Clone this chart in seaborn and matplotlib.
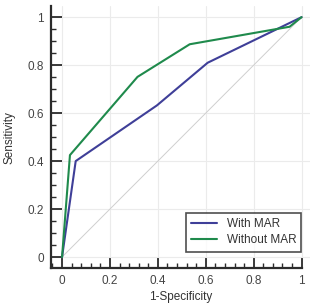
import pandas as pd
import seaborn as sns
import matplotlib.pyplot as plt
from matplotlib.ticker import MultipleLocator

# ROC points
fpr_with = [0.0, 0.057, 0.396, 0.608, 1.0]
tpr_with = [0.0, 0.400, 0.632, 0.810, 1.0]
fpr_without = [0.0, 0.033, 0.315, 0.533, 0.950, 1.0]
tpr_without = [0.0, 0.425, 0.751, 0.887, 0.960, 1.0]
labels = ["With MAR", "Without MAR"]
colors = ["#3f3f98", "#1f8a4c"]

df = pd.concat([
    pd.DataFrame({"fpr": fpr_with, "tpr": tpr_with, "curve": labels[0]}),
    pd.DataFrame({"fpr": fpr_without, "tpr": tpr_without, "curve": labels[1]}),
])

sns.set_style("white")
plt.rcParams['font.family'] = ['Liberation Sans', 'DejaVu Sans']

fig = plt.figure(figsize=(3.15, 3.06), dpi=100)
ax = fig.add_axes([0.162, 0.124, 0.822, 0.856])

# chance line
ax.plot([0, 1], [0, 1], color="#cfcfcf", lw=0.7, zorder=1)
sns.lineplot(data=df, x="fpr", y="tpr", hue="curve", palette=colors,
             sort=False, estimator=None, lw=1.5, ax=ax, zorder=3)

ax.set_xlim(-0.046, 1.035)
ax.set_ylim(-0.046, 1.046)
ax.xaxis.set_minor_locator(MultipleLocator(0.04))
ax.yaxis.set_minor_locator(MultipleLocator(0.05))
ax.set_xticks([0, 0.2, 0.4, 0.6, 0.8, 1])
ax.set_xticklabels(["0", "0.2", "0.4", "0.6", "0.8", "1"])
ax.set_yticks([0, 0.2, 0.4, 0.6, 0.8, 1])
ax.set_yticklabels(["0", "0.2", "0.4", "0.6", "0.8", "1"])
ax.grid(True, which="major", color="#ebebeb", lw=0.8, zorder=0)
ax.set_axisbelow(True)

for s in ["top", "right"]:
    ax.spines[s].set_visible(False)
for s in ["left", "bottom"]:
    ax.spines[s].set_linewidth(1.6)
    ax.spines[s].set_color("#2b2b2b")
ax.spines["bottom"].set_bounds(-0.046, 1.0)
ax.tick_params(which="major", direction="in", length=8, width=1.3,
               color="#2b2b2b", labelsize=8.5, labelcolor="#444444", pad=5)
ax.tick_params(which="minor", direction="in", length=3.5, width=1.0,
               color="#2b2b2b")
ax.xaxis.set_ticks_position("bottom")
ax.yaxis.set_ticks_position("left")

ax.set_xlabel("1-Specificity", fontsize=8.5, color="#333333", labelpad=3)
ax.set_ylabel("Sensitivity", fontsize=8.5, color="#333333", labelpad=9)

leg = ax.legend(loc="lower right", bbox_to_anchor=(0.99, 0.04), fontsize=8.5,
                frameon=True, fancybox=False, handlelength=2.2,
                borderpad=0.45, labelspacing=0.35, title=None)
leg.get_frame().set_edgecolor("#222222")
leg.get_frame().set_linewidth(1.2)
for t in leg.get_texts():
    t.set_color("#333333")

fig.savefig("out.png", dpi=100)
